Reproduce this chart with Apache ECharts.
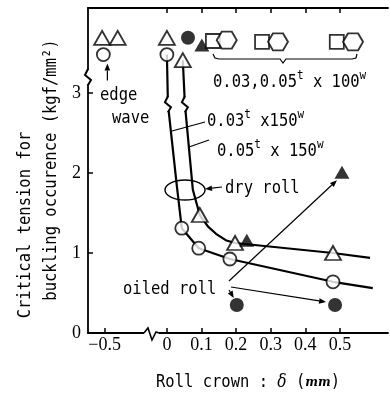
<!DOCTYPE html>
<html>
<head>
<meta charset="utf-8">
<script src="https://cdn.jsdelivr.net/npm/echarts@6/dist/echarts.min.js"></script>
<style>
  html, body { margin: 0; padding: 0; background: #fff; }
  #chart { width: 390px; height: 394px; }
</style>
</head>
<body>
<div id="chart"></div>
<script>
// axis ticks (roll crown in mm, the negative side is squeezed by the axis break)
const xTickValues = [-0.5, 0, 0.1, 0.2, 0.3, 0.4, 0.5];
const xTickLabels = ['\u22120.5', '0', '0.1', '0.2', '0.3', '0.4', '0.5'];
const xTopTicks = [0, 0.1, 0.2, 0.3, 0.4, 0.5];
const yTickValues = [0, 1, 2, 3];

// dry roll 0.03t x 150w  (open circles)
const dry03Points = [[-0.51, 3.48], [0, 3.48], [0.043, 1.31], [0.092, 1.06], [0.182, 0.925], [0.48, 0.64]];
const dry03Line = [[0, 3.48], [0.003, 2.86], [0.029, 1.83], [0.043, 1.31], [0.092, 1.06], [0.182, 0.925], [0.48, 0.64], [0.595, 0.56]];
// dry roll 0.05t x 150w  (open triangles)
const dry05Points = [[-0.52, 3.69], [-0.395, 3.69], [0, 3.69], [0.046, 3.41], [0.095, 1.475], [0.197, 1.125], [0.48, 1.0]];
const dry05Line = [[0.046, 3.41], [0.052, 2.86], [0.075, 1.79], [0.095, 1.475], [0.119, 1.33], [0.142, 1.24], [0.17, 1.16], [0.197, 1.125], [0.48, 1.0], [0.587, 0.94]];
// oiled roll (filled marks)
const oiled03Points = [[0.061, 3.69], [0.202, 0.35], [0.486, 0.35]];
const oiled05Points = [[0.101, 3.6], [0.231, 1.16], [0.506, 2.01]];
// 0.03, 0.05t x 100w : no buckling
const w100Squares = [[0.133, 3.65], [0.275, 3.64], [0.491, 3.64]];
const w100Hexagons = [[0.173, 3.66], [0.321, 3.64], [0.538, 3.64]];

// break marks [x in axis units, y]
const vBreaks = [[-0.228, 3.2], [0.003, 2.86], [0.052, 2.86]];
const hBreaks = [[-0.046, 0]];

const toAxis = v => v < 0 ? v * 0.36 : v;
const conv = arr => arr.map(p => [toAxis(p[0]), p[1]]);

const FONT = 'DejaVu Sans Mono';
const hexagon = 'path://M0,5 L3,0 L9,0 L12,5 L9,10 L3,10 Z';

var myChart = echarts.init(document.getElementById('chart'));

const openStyle = { color: '#fff', borderColor: '#000', borderWidth: 1.8 };
const axisCommon = {
  type: 'value',
  min: -0.228,
  max: 0.639,
  splitLine: { show: false },
  axisLine: { show: true, onZero: false, lineStyle: { color: '#000', width: 1.8 } }
};

const option = {
  backgroundColor: '#fff',
  animation: false,
  grid: { left: 88, right: 2, top: 8, bottom: 61 },
  xAxis: [
    Object.assign({}, axisCommon, {
      position: 'bottom',
      axisTick: { inside: true, length: 5, customValues: xTickValues.map(toAxis), lineStyle: { color: '#000', width: 1.5 } },
      axisLabel: {
        customValues: xTickValues.map(toAxis),
        formatter: function (v) {
          for (let i = 0; i < xTickValues.length; i++) {
            if (Math.abs(toAxis(xTickValues[i]) - v) < 1e-6) return xTickLabels[i];
          }
          return '';
        },
        margin: 3, color: '#000', fontFamily: 'Liberation Serif', fontSize: 18
      }
    }),
    Object.assign({}, axisCommon, {
      position: 'top',
      axisTick: { inside: true, length: 5, customValues: xTopTicks, lineStyle: { color: '#000', width: 1.5 } },
      axisLabel: { show: false }
    })
  ],
  yAxis: {
    type: 'value',
    min: 0,
    max: 4.0625,
    splitLine: { show: false },
    axisLine: { show: true, onZero: false, lineStyle: { color: '#000', width: 1.8 } },
    axisTick: { show: true, inside: true, length: 5, customValues: yTickValues, lineStyle: { color: '#000', width: 1.5 } },
    axisLabel: { customValues: yTickValues, margin: 7, color: '#000', fontFamily: 'Liberation Serif', fontSize: 18 }
  },
  series: [
    { type: 'line', data: conv(dry03Line), showSymbol: false, z: 2, lineStyle: { color: '#000', width: 2.2 } },
    { type: 'line', data: conv(dry05Line), showSymbol: false, z: 2, lineStyle: { color: '#000', width: 2.2 } },
    {
      type: 'custom', z: 4, data: vBreaks,
      renderItem: function (params, api) {
        const p = api.coord([api.value(0), api.value(1)]);
        const offs = [[0, -8], [-3, -2], [3, 3], [0, 8]];
        return {
          type: 'group', children: [
            { type: 'rect', shape: { x: p[0] - 4, y: p[1] - 7, width: 8, height: 14 }, style: { fill: '#fff' } },
            { type: 'polyline', shape: { points: offs.map(o => [p[0] + o[0], p[1] + o[1]]) }, style: { stroke: '#000', lineWidth: 2, fill: null } }
          ]
        };
      }
    },
    {
      type: 'custom', z: 4, data: hBreaks,
      renderItem: function (params, api) {
        const p = api.coord([api.value(0), api.value(1)]);
        const offs = [[-7, 0], [-3, -5], [1, 7], [5, -1], [8, 0]];
        return {
          type: 'group', children: [
            { type: 'rect', shape: { x: p[0] - 7, y: p[1] - 3, width: 15, height: 6 }, style: { fill: '#fff' } },
            { type: 'polyline', shape: { points: offs.map(o => [p[0] + o[0], p[1] + o[1]]) }, style: { stroke: '#000', lineWidth: 1.6, fill: null } }
          ]
        };
      }
    },
    { type: 'scatter', data: conv(dry03Points), symbol: 'circle', symbolSize: 13, z: 5, itemStyle: openStyle },
    { type: 'scatter', data: conv(dry05Points), symbol: 'triangle', symbolSize: [16, 14], z: 5, itemStyle: openStyle },
    { type: 'scatter', data: conv(oiled03Points), symbol: 'circle', symbolSize: 14, z: 5, itemStyle: { color: '#000' } },
    { type: 'scatter', data: conv(oiled05Points), symbol: 'triangle', symbolSize: [15, 13], z: 5, itemStyle: { color: '#000' } },
    { type: 'scatter', data: conv(w100Squares), symbol: 'rect', symbolSize: 14, z: 5, itemStyle: openStyle },
    { type: 'scatter', data: conv(w100Hexagons), symbol: hexagon, symbolSize: [20, 17], z: 6, itemStyle: openStyle }
  ]
};
myChart.setOption(option);

// annotations
const px = p => myChart.convertToPixel({ gridIndex: 0 }, [toAxis(p[0]), p[1]]);
const TFONT = '15.5px "' + FONT + '"';

function text(x, y, str, extra) {
  return {
    type: 'text', x: x, y: y, z: 10, scaleY: 1.15,
    style: Object.assign({
      text: str, fill: '#000', font: TFONT,
      textAlign: 'left', textVerticalAlign: 'middle'
    }, extra || {})
  };
}
function arrow(a, b, head) {
  const ang = Math.atan2(b[1] - a[1], b[0] - a[0]);
  const L = 7, W = 2.8;
  const bx = b[0] - L * Math.cos(ang), by = b[1] - L * Math.sin(ang);
  const items = [{ type: 'line', z: 10, shape: { x1: a[0], y1: a[1], x2: head ? bx : b[0], y2: head ? by : b[1] }, style: { stroke: '#000', lineWidth: 1.2 } }];
  if (head) {
    items.push({
      type: 'polygon', z: 10,
      shape: { points: [b, [bx + W * Math.sin(ang), by - W * Math.cos(ang)], [bx - W * Math.sin(ang), by + W * Math.cos(ang)]] },
      style: { fill: '#000' }
    });
  }
  return items;
}

const sup = { s: { fontSize: 11, lineHeight: 9, verticalAlign: 'top', fontFamily: FONT } };
const edgeC = px(dry03Points[0]);
const triTop = px(oiled05Points[2]);
const fcA = px(oiled03Points[1]);
const fcB = px(oiled03Points[2]);

const graphics = [].concat(
  text(100, 95, 'edge'),
  text(112, 118, 'wave'),
  arrow([edgeC[0] + 4, edgeC[1] + 26], [edgeC[0] + 4, edgeC[1] + 9], true),
  text(213, 82, '0.03,0.05{s|t} x 100{s|w}', { rich: sup, lineHeight: 22 }),
  text(207, 121, '0.03{s|t} x150{s|w}', { rich: sup, lineHeight: 22 }),
  text(217, 151, '0.05{s|t} x 150{s|w}', { rich: sup, lineHeight: 22 }),
  arrow([205, 122], [172, 131], false),
  arrow([209, 140], [189, 147], false),
  text(225, 188, 'dry roll'),
  arrow([222, 187], [205, 189], true),
  { type: 'ellipse', z: 10, shape: { cx: 185, cy: 190, rx: 20, ry: 10 }, style: { stroke: '#000', lineWidth: 1.4, fill: null } },
  text(123, 289, 'oiled roll'),
  arrow([229, 281], [triTop[0] - 5, triTop[1] + 8], true),
  arrow([231, 287], [fcB[0] - 9, fcB[1] - 3], true),
  arrow([229, 290], [fcA[0] - 3, fcA[1] - 7], true),
  {
    type: 'polyline', z: 10,
    shape: { points: [[213, 54], [215, 58], [219, 59], [280, 59], [283, 63], [286, 59], [352, 59], [356, 58], [357, 54]] },
    style: { stroke: '#000', lineWidth: 1.2, fill: null }
  },
  {
    type: 'text', x: 25, y: 225, rotation: Math.PI / 2, scaleY: 1.15, z: 10,
    style: { text: 'Critical tension for', fill: '#000', font: TFONT, textAlign: 'center', textVerticalAlign: 'middle' }
  },
  {
    type: 'text', x: 51, y: 170, rotation: Math.PI / 2, scaleY: 1.15, z: 10,
    style: { text: 'buckling occurence (kgf/mm\u00b2)', fill: '#000', font: TFONT, textAlign: 'center', textVerticalAlign: 'middle' }
  },
  {
    type: 'text', x: 248, y: 382, scaleY: 1.15, z: 10,
    style: {
      text: 'Roll crown : {i|\u03b4} ({m|mm})', fill: '#000', font: TFONT,
      textAlign: 'center', textVerticalAlign: 'middle',
      rich: { i: { fontStyle: 'italic', fontSize: 15.5, fontFamily: 'DejaVu Serif' }, m: { fontStyle: 'italic', fontSize: 12, fontWeight: 'bold', fontFamily: 'DejaVu Serif' } }
    }
  }
);
myChart.setOption({ graphic: graphics });
</script>
</body>
</html>
